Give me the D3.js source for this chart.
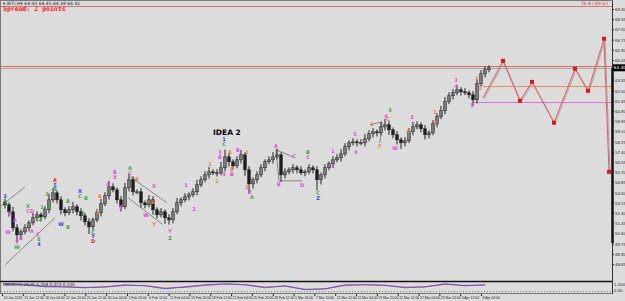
<!DOCTYPE html>
<html>
<head>
<meta charset="utf-8">
<script src="https://cdn.jsdelivr.net/npm/d3@7/dist/d3.min.js"></script>
<style>
  body { margin: 0; background: #dcdcdc; }
  svg { display: block; font-family: "DejaVu Sans", sans-serif; }
</style>
</head>
<body>
<svg id="chart" width="625" height="301"></svg>
<script>
// H4 closes
const closes = [52.98, 52.40, 51.07, 50.48, 50.73, 51.07, 51.48, 51.90, 52.15, 51.98,
  52.57, 53.40, 53.98, 53.40, 52.57, 52.32, 52.57, 52.82, 52.40, 52.07,
  51.57, 51.15, 51.73, 52.32, 53.07, 53.73, 54.48, 54.23, 53.40, 52.82,
  54.40, 55.07, 54.07, 54.07, 53.15, 52.98, 53.40, 52.57, 52.15, 52.40,
  51.90, 51.73, 52.40, 53.15, 53.40, 53.65, 53.82, 54.07, 54.65, 55.07,
  55.48, 55.73, 55.65, 55.65, 56.07, 56.98, 56.57, 56.23, 56.73, 57.15,
  55.90, 54.73, 55.07, 55.48, 56.07, 56.57, 56.73, 56.98, 57.15, 55.48,
  55.73, 55.90, 56.07, 55.90, 55.65, 55.73, 56.07, 55.90, 55.07, 55.48,
  56.07, 56.40, 56.73, 56.90, 57.23, 57.82, 58.15, 58.23, 58.15, 58.15,
  58.48, 58.90, 59.07, 58.98, 59.48, 59.65, 59.23, 58.82, 58.40, 58.15,
  58.32, 59.07, 59.48, 59.65, 59.32, 58.82, 58.98, 59.73, 60.32, 60.82,
  61.57, 62.07, 62.32, 62.57, 62.40, 62.32, 62.15, 61.73, 63.07, 63.90, 64.23, 64.40];
const firstOpen = 53.20;
const wickUp = [0.3,0.2,0.4,0.3,0.2,0.3,0.2,0.4,0.3,0.2, 0.3,0.5,0.4,0.2,0.3,0.2,0.3,0.4,0.2,0.3,
  0.2,0.3,0.2,0.3,0.4,0.3,0.5,0.3,0.2,0.3, 0.4,0.5,0.3,0.2,0.3,0.2,0.4,0.3,0.2,0.3,
  0.2,0.3,0.3,0.4,0.2,0.3,0.2,0.3,0.4,0.3, 0.3,0.4,0.2,0.3,0.5,0.6,0.3,0.2,0.3,0.4,
  0.2,0.3,0.2,0.3,0.3,0.2,0.3,0.4,0.5,0.2, 0.3,0.2,0.3,0.2,0.3,0.2,0.3,0.2,0.3,0.2,
  0.3,0.2,0.3,0.3,0.4,0.3,0.2,0.3,0.2,0.3, 0.4,0.3,0.3,0.2,0.4,0.5,0.3,0.2,0.3,0.2,
  0.3,0.3,0.4,0.3,0.2,0.3,0.2,0.3,0.3,0.4, 0.4,0.3,0.3,0.4,0.2,0.3,0.2,0.3,0.4,0.3,0.3,0.2];
const wickDn = [0.3,0.4,0.3,0.6,0.3,0.2,0.3,0.2,0.3,0.4, 0.2,0.3,0.2,0.3,0.4,0.3,0.2,0.3,0.3,0.4,
  0.3,0.6,0.3,0.2,0.3,0.2,0.3,0.2,0.3,0.4, 0.2,0.3,0.3,0.2,0.4,0.3,0.2,0.4,0.3,0.2,
  0.5,0.4,0.3,0.2,0.3,0.2,0.3,0.2,0.3,0.2, 0.2,0.3,0.2,0.3,0.2,0.3,0.4,0.3,0.2,0.3,
  0.5,0.8,0.4,0.3,0.2,0.3,0.2,0.3,0.2,0.6, 0.3,0.2,0.3,0.3,0.2,0.3,0.2,0.3,0.9,0.4,
  0.3,0.2,0.3,0.2,0.3,0.2,0.3,0.2,0.3,0.2, 0.3,0.2,0.3,0.3,0.2,0.3,0.4,0.3,0.4,0.5,
  0.3,0.2,0.3,0.2,0.3,0.4,0.3,0.2,0.3,0.2, 0.3,0.2,0.3,0.2,0.3,0.2,0.3,0.5,0.3,0.2,0.3,0.2];

// right price scale and bottom time labels
const priceTicks = [69.30, 68.45, 67.60, 66.75, 65.90, 65.05, 64.20, 63.35, 62.50, 61.65,
  60.80, 59.95, 59.10, 58.25, 57.40, 56.55, 55.70, 54.85, 54.00, 53.15,
  52.30, 51.45, 50.60, 49.75, 48.90, 48.05];
const timeLabels = ["10 Jan 2019", "15 Jan 12:00", "18 Jan 04:00", "22 Jan 20:00", "25 Jan 12:00",
  "30 Jan 04:00", "1 Feb 20:00", "6 Feb 12:00", "11 Feb 04:00", "13 Feb 20:00",
  "18 Feb 12:00", "21 Feb 04:00", "25 Feb 20:00", "28 Feb 12:00", "5 Mar 04:00",
  "7 Mar 20:00", "12 Mar 12:00", "15 Mar 04:00", "19 Mar 20:00", "22 Mar 12:00",
  "27 Mar 04:00", "29 Mar 20:00", "3 Apr 12:00", "8 Apr 04:00"];

// projected zigzag (bar index, price)
const projIdx = [119.5, 124.5, 128.75, 131.75, 137.25, 142.5, 145.75, 149.75, 151];
const projPx = [61.90, 64.98, 61.65, 63.23, 59.82, 64.32, 62.48, 66.82, 55.73];

// horizontal levels
const levelPx = [69.57, 64.57, 62.90, 61.57];
const levelFrom = [-2, -2, 119.25, 117];
const levelColor = ["#d97070", "#e8625a", "#ef8a55", "#e868e8"];
const bidPx = 64.40;

// drawn trend lines [i1, p1, i2, p2]
const trendLines = [
  [0, 47.98, 12.5, 51.90], [-1.25, 52.82, 5, 54.48],
  [31.25, 55.32, 40.5, 53.15], [30.75, 53.57, 39.5, 51.32],
  [67.75, 57.57, 72.5, 56.90], [67.75, 57.57, 68.5, 54.98], [68.5, 54.98, 74.25, 54.98],
  [91.25, 59.65, 94.25, 59.90], [94.25, 59.90, 93.75, 58.15]
];

// wave labels: [index, price, text, colour key]
const waveLabels = [
  [0,53.65,"3","b"],[0,53.15,"5","g"],[1.25,52.23,"X","m"],[0.75,50.65,"W","m"],[2.5,51.65,"A","m"],
  [4,50.15,"B","m"],[3,49.82,"Y","m"],[3,49.40,"W","g"],[5.75,52.82,"X","g"],[5.75,52.40,"C","m"],
  [6.75,52.40,"D","m"],[6.75,50.73,"A","m"],[9.25,52.73,"1","g"],[8.75,51.73,"2","g"],[8.25,50.48,"C","m"],
  [8.5,50.10,"E","g"],[8.5,49.65,"4","b"],[10.5,53.82,"3","g"],[11,52.82,"4","g"],[12.5,55.00,"A","r"],
  [12.5,54.62,"5","b"],[12.5,54.23,"B","g"],[14,51.32,"W","b"],[15.75,53.23,"B","g"],[15.75,51.07,"B","g"],
  [18.75,54.07,"X","b"],[18.75,53.65,"C","g"],[20.25,53.48,"B","g"],[19.5,52.23,"A","g"],[22,50.70,"C","g"],
  [22,50.32,"Y","b"],[22,49.94,"D","r"],[23,52.32,"1","o"],[23.75,53.65,"B","o"],[25.75,54.65,"A","m"],
  [27.5,55.65,"B","m"],[27.5,55.23,"X","m"],[29,52.73,"B","m"],[31.25,55.98,"A","g"],[31.25,55.57,"C","m"],
  [33,55.07,"B","o"],[35.25,52.07,"W","m"],[37.25,54.48,"X","m"],[37,53.15,"B","o"],[37.25,51.32,"Y","o"],
  [41.25,50.73,"Y","m"],[41.25,50.15,"Z","g"],[45.25,54.57,"1","m"],[47.25,52.57,"2","m"],
  [54.75,58.40,"1","b"],[54.75,57.98,"C","g"],[53.75,57.32,"3","m"],[53.75,56.90,"B","m"],[54.75,55.48,"4","m"],
  [51.25,56.32,"1","o"],[53,54.90,"2","o"],[56.25,57.32,"A","o"],[56.75,55.90,"B","o"],[56.75,55.48,"B","m"],
  [58.25,57.48,"B","m"],[60.5,57.32,"1","o"],[60.5,54.40,"3","o"],[61.25,53.98,"Z","m"],[61.75,53.57,"A","g"],
  [67.75,57.82,"A","m"],[68.5,54.65,"B","m"],[72.25,56.98,"C","m"],[74.25,54.60,"D","m"],[75.75,57.32,"B","g"],
  [75.75,56.90,"C","m"],[78.25,53.90,"C","g"],[78.25,53.48,"Z","b"],[82,57.40,"1","m"],[82,56.15,"2","m"],
  [87.5,58.82,"5","m"],[87.75,57.32,"4","m"],[91.75,59.65,"1","o"],[93.75,57.82,"F","o"],[95.75,60.05,"C","o"],
  [97.5,57.65,"W","m"],[96.25,60.85,"3","g"],[95.25,60.30,"4","m"],[101.75,60.23,"3","m"],[100.75,59.07,"4","o"],
  [107.5,60.65,"1","o"],[107.5,59.82,"2","o"],[112.75,63.30,"3","m"],[112.75,62.82,"4","m"],[118,63.48,"1","o"],
  [118.75,62.65,"3","o"],[116.75,61.23,"5","m"]
];
const labelColors = { m: "#e34be3", o: "#f07c45", g: "#3ea83e", b: "#3b3bf0", r: "#e32020" };

// oscillator in the sub-window, sampled every 5 bars
const oscIdx = [0,5,10,15,20,25,30,35,40,45,50,55,60,65,70,75,80,85,90,95,100,105,110,115,120];
const oscMain = [1.0,0.87,0.62,0.62,0.5,0.62,0.87,0.75,0.37,0.62,0.87,1.0,0.87,0.5,0.75,0.25,0.37,0.87,0.87,0.8,0.5,0.62,1.0,0.75,0.87];
const oscSignal = [0.95,0.9,0.7,0.6,0.55,0.58,0.8,0.78,0.45,0.55,0.8,0.95,0.9,0.58,0.7,0.32,0.35,0.78,0.9,0.82,0.58,0.6,0.92,0.8,0.84];

const svg = d3.select("#chart");
const axisX = 612;

const x = d3.scaleLinear().domain([0, closes.length - 1]).range([5, 489]);
const y = d3.scaleLinear().domain([48.05, 69.30]).range([264, 9]);
const yOsc = d3.scaleLinear().domain([-0.1, 1.1]).range([292.5, 283]);
const xTime = d3.scalePoint().domain(timeLabels).range([2, 481]);

// window frame
svg.append("rect").attr("x", 0.5).attr("y", 0.5).attr("width", axisX).attr("height", 293)
  .attr("fill", "#dcdcdc").attr("stroke", "#7a7a7a");
svg.append("line").attr("x1", 0).attr("x2", axisX).attr("y1", 281.5).attr("y2", 281.5)
  .attr("stroke", "#111").attr("stroke-width", 1.5);

const main = svg.append("g");
main.append("clipPath").attr("id", "clipMain")
  .append("rect").attr("x", 1).attr("y", 2).attr("width", axisX - 1).attr("height", 278);

const plot = main.append("g").attr("clip-path", "url(#clipMain)");

// levels
levelPx.forEach((p, i) => {
  plot.append("line")
    .attr("x1", x(levelFrom[i])).attr("x2", axisX)
    .attr("y1", Math.round(y(p)) + 0.5).attr("y2", Math.round(y(p)) + 0.5)
    .attr("stroke", levelColor[i]).attr("stroke-width", 1);
});
plot.append("line").attr("x1", 0).attr("x2", axisX)
  .attr("y1", Math.round(y(bidPx)) + 0.5).attr("y2", Math.round(y(bidPx)) + 0.5)
  .attr("stroke", "#a9a9a9");

// trend lines
plot.selectAll(".trend").data(trendLines).enter().append("line")
  .attr("x1", d => x(d[0])).attr("y1", d => y(d[1]))
  .attr("x2", d => x(d[2])).attr("y2", d => y(d[3]))
  .attr("stroke", "#6e6e6e").attr("stroke-width", 0.8);

// candles
const bars = closes.map((c, i) => {
  const o = i === 0 ? firstOpen : closes[i - 1];
  return { i: i, o: o, c: c, h: Math.max(o, c) + wickUp[i], l: Math.min(o, c) - wickDn[i] };
});
const candle = plot.selectAll(".candle").data(bars).enter().append("g");
candle.append("line")
  .attr("x1", d => x(d.i)).attr("x2", d => x(d.i))
  .attr("y1", d => y(d.h)).attr("y2", d => y(d.l))
  .attr("stroke", "#222").attr("stroke-width", 1);
candle.append("rect")
  .attr("x", d => x(d.i) - 1.4).attr("width", 2.8)
  .attr("y", d => y(Math.max(d.o, d.c)))
  .attr("height", d => Math.max(1, Math.abs(y(d.o) - y(d.c))))
  .attr("fill", d => d.c >= d.o ? "#7a7a7a" : "#1e1e1e")
  .attr("stroke", "#1e1e1e").attr("stroke-width", 0.5);

// wave labels
plot.selectAll(".wave").data(waveLabels).enter().append("text")
  .attr("x", d => x(d[0])).attr("y", d => y(d[1]))
  .attr("text-anchor", "middle").attr("dominant-baseline", "middle")
  .attr("font-size", 5).attr("font-weight", "bold")
  .attr("fill", d => labelColors[d[3]])
  .text(d => d[2]);

plot.append("text").attr("x", x(52)).attr("y", y(58.98))
  .attr("font-size", 7.5).attr("font-weight", "bold").attr("fill", "#000")
  .attr("dominant-baseline", "middle").text("IDEA 2");

// projection zigzag
const proj = projIdx.map((v, i) => [v, projPx[i]]);
const zig = d3.line().x(d => x(d[0])).y(d => y(d[1]));
svg.append("path").datum(proj).attr("d", zig)
  .attr("fill", "none").attr("stroke", "#b0a0a0").attr("stroke-width", 1)
  .attr("transform", "translate(1,1)");
svg.append("path").datum(proj).attr("d", zig)
  .attr("fill", "none").attr("stroke", "#e25b5b").attr("stroke-width", 1);
svg.selectAll(".pdot").data(proj.slice(1)).enter().append("rect")
  .attr("x", d => x(d[0]) - 2).attr("y", d => y(d[1]) - 2)
  .attr("width", 4).attr("height", 4)
  .attr("fill", "#d21c1c");

// right price axis (labels hidden under the price tag are skipped, as the terminal does)
const yAxis = d3.axisRight(y).tickSize(2).tickPadding(1)
  .tickValues(priceTicks.filter(p => Math.abs(y(p) - y(bidPx)) > 6))
  .tickFormat(d3.format(".2f"));
const ya = svg.append("g").attr("transform", `translate(${axisX},0)`).call(yAxis);
ya.select(".domain").remove();
ya.selectAll("line").attr("stroke", "#222");
ya.selectAll("text").attr("font-size", 4.4).attr("fill", "#222");
svg.append("line").attr("x1", axisX + 0.5).attr("x2", axisX + 0.5).attr("y1", 1).attr("y2", 294)
  .attr("stroke", "#333");
svg.append("line").attr("x1", axisX + 0.5).attr("x2", axisX + 0.5)
  .attr("y1", y(bidPx)).attr("y2", 243)
  .attr("stroke", "#111").attr("stroke-width", 2.5);

// current price tag
svg.append("rect").attr("x", axisX + 1).attr("y", y(bidPx) - 3.5).attr("width", 12).attr("height", 7)
  .attr("fill", "#000");
svg.append("text").attr("x", axisX + 1.8).attr("y", y(bidPx) + 0.3)
  .attr("font-size", 4.2).attr("fill", "#fff").attr("dominant-baseline", "middle")
  .text(d3.format(".2f")(bidPx));

// oscillator window
svg.append("line").attr("x1", 1).attr("x2", axisX)
  .attr("y1", yOsc(0)).attr("y2", yOsc(0))
  .attr("stroke", "#4a9a4a").attr("stroke-dasharray", "1,2");
const oscLine = d3.line().x(d => x(d[0])).y(d => yOsc(d[1]));
svg.append("path").datum(oscIdx.map((v, i) => [v, oscSignal[i]])).attr("d", oscLine)
  .attr("fill", "none").attr("stroke", "#e05050").attr("stroke-width", 0.9);
svg.append("path").datum(oscIdx.map((v, i) => [v, oscMain[i]])).attr("d", oscLine)
  .attr("fill", "none").attr("stroke", "#5a4ae8").attr("stroke-width", 0.9);
svg.append("text").attr("x", 3).attr("y", 286).attr("font-size", 4.2).attr("fill", "#222")
  .text("MACD(12,26,9) 0.758 0.424 0.335");
svg.append("text").attr("x", axisX + 2).attr("y", 285.5).attr("font-size", 3.8).attr("fill", "#222")
  .text("1.200");
svg.append("text").attr("x", axisX + 2).attr("y", 291.5).attr("font-size", 3.8).attr("fill", "#222")
  .text("0.00");

// time axis
const xAxis = d3.axisBottom(xTime).tickSize(2).tickPadding(1);
const xa = svg.append("g").attr("transform", "translate(0,294)").call(xAxis);
xa.select(".domain").remove();
xa.selectAll("line").attr("stroke", "#222");
xa.selectAll("text").attr("font-size", 3.4).attr("fill", "#222")
  .attr("text-anchor", "start").attr("dx", 1);

// header texts
svg.append("text").attr("x", 3).attr("y", 4.5).attr("font-size", 4.5).attr("fill", "#222")
  .text("\u25BE WTI,H4 64.43 64.45 64.38 64.41");
svg.append("text").attr("x", 3).attr("y", 11).attr("font-size", 6.5).attr("font-weight", "bold")
  .attr("font-family", "DejaVu Sans Mono, monospace").attr("fill", "#ff2020")
  .text("Spread: 2 points");
svg.append("text").attr("x", 608).attr("y", 5).attr("font-size", 4.5).attr("fill", "#d24040")
  .attr("text-anchor", "end").text("78.8 | 89.62");
</script>
</body>
</html>
